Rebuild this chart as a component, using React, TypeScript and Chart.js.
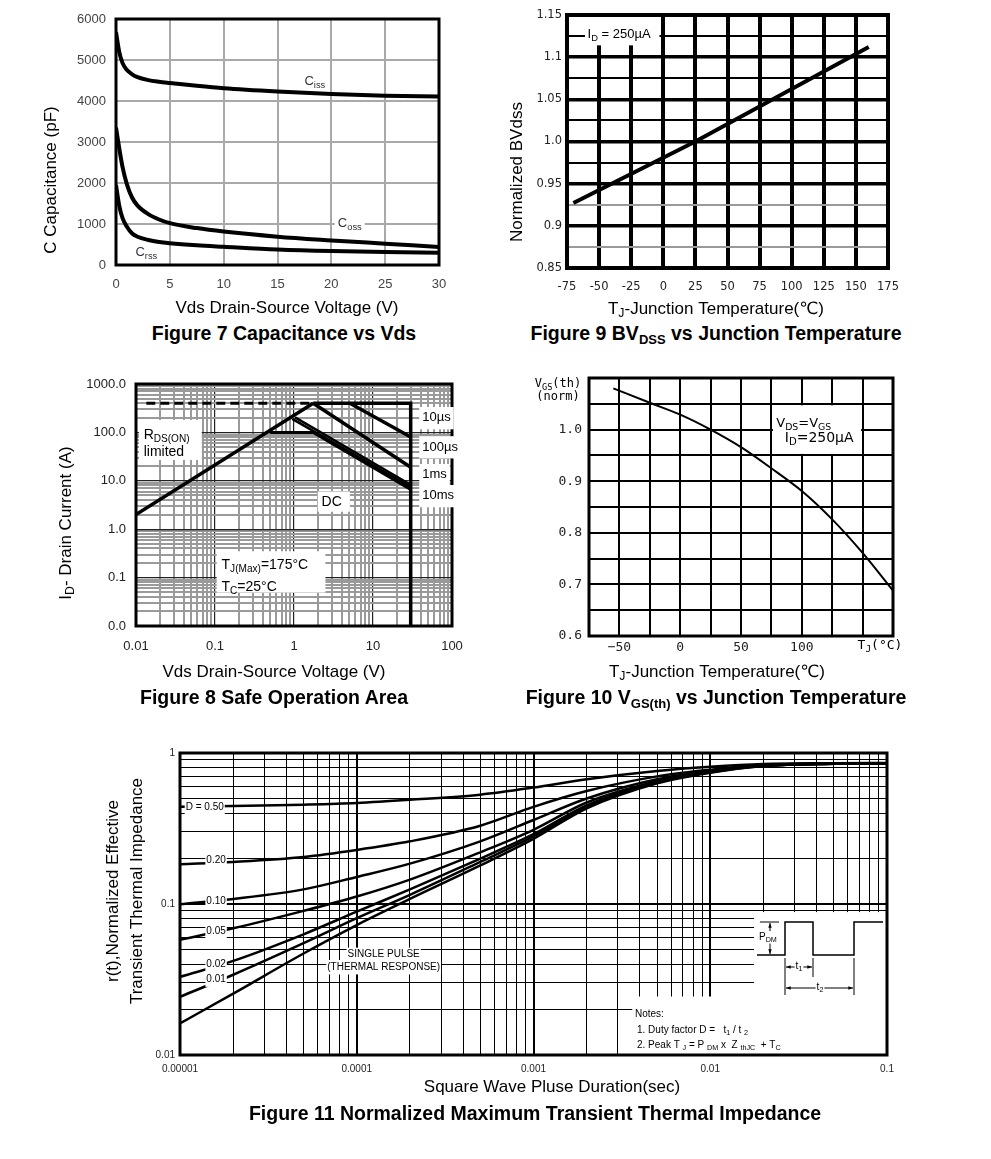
import React, { useEffect, useRef } from "react";
import { Chart, registerables } from "chart.js";

Chart.register(...registerables);

const SANS = '"Liberation Sans", Arial, Helvetica, "DejaVu Sans", "Noto Sans CJK SC", sans-serif';
const DEJ = '"DejaVu Sans", "Liberation Sans", sans-serif';
const MONO = '"DejaVu Sans Mono", "DejaVu Sans", monospace';

// ---------- Figure 7: Capacitance vs Vds ----------
const capVds = [0, 0.3, 0.6, 1, 1.5, 2, 3, 4, 5, 7.5, 10, 15, 20, 25, 30];
const capCiss = [5680, 5200, 4930, 4760, 4650, 4580, 4510, 4470, 4440, 4370, 4310, 4230, 4170, 4130, 4110];
const capCoss = [3350, 2850, 2400, 1980, 1640, 1450, 1240, 1110, 1020, 900, 815, 690, 600, 520, 440];
const capCrss = [1950, 1450, 1150, 940, 770, 690, 610, 560, 530, 480, 445, 380, 340, 315, 300];
const capXTicks = [0, 5, 10, 15, 20, 25, 30];
const capYTicks = [0, 1000, 2000, 3000, 4000, 5000, 6000];

// ---------- Figure 9: BVdss vs Junction Temperature ----------
const bvTemp = [-70, 25, 160];
const bvNorm = [0.927, 1.0, 1.112];
const bvXTicks = [-75, -50, -25, 0, 25, 50, 75, 100, 125, 150, 175];
const bvYTicks = [0.85, 0.875, 0.9, 0.925, 0.95, 0.975, 1.0, 1.025, 1.05, 1.075, 1.1, 1.125, 1.15];
const bvYLabels = ["0.85", "", "0.9", "", "0.95", "", "1.0", "", "1.05", "", "1.1", "", "1.15"];

// ---------- Figure 8: Safe Operation Area ----------
const soaRdsV = [0.01, 1.75];
const soaRdsI = [2, 400];
const soaLimV = [0.0135, 1.75];
const soaLimI = [400, 400];
const soaMaxV = [1.75, 30, 30];
const soaMaxI = [400, 400, 0.01];
const soa10usV = [5.1, 30];
const soa10usI = [400, 80];
const soa100usV = [1.75, 30];
const soa100usI = [400, 19];
const soa1msV = [1.03, 30];
const soa1msI = [205, 8.3];
const soa10msV = [0.95, 30];
const soa10msI = [190, 7.4];
const soaDcV = [0.5, 1.75, 30];
const soaDcI = [100, 100, 6.6];
const soaXDecades = [0.01, 0.1, 1, 10, 100];
const soaXLabels = ["0.01", "0.1", "1", "10", "100"];
const soaYDecades = [0.01, 0.1, 1, 10, 100, 1000];
const soaYLabels = ["0.0", "0.1", "1.0", "10.0", "100.0", "1000.0"];

// ---------- Figure 10: Vgs(th) vs Junction Temperature ----------
const vthTemp = [-55, -25, 0, 25, 50, 75, 100, 125, 150, 175];
const vthNorm = [1.08, 1.052, 1.029, 1.0, 0.966, 0.925, 0.881, 0.826, 0.761, 0.688];
const vthXTicks = [-75, -50, -25, 0, 25, 50, 75, 100, 125, 150, 175];
const vthXLabels = ["", "\u221250", "", "0", "", "50", "", "100", "", "", ""];
const vthYTicks = [0.6, 0.65, 0.7, 0.75, 0.8, 0.85, 0.9, 0.95, 1.0, 1.05, 1.1];
const vthYLabels = ["0.6", "", "0.7", "", "0.8", "", "0.9", "", "1.0", "", ""];

// ---------- Figure 11: Transient Thermal Impedance ----------
const zthT = [1e-5, 2e-5, 5e-5, 1e-4, 2e-4, 5e-4, 1e-3, 2e-3, 5e-3, 1e-2, 2e-2, 5e-2, 1e-1];
const zthD050 = [0.44, 0.445, 0.455, 0.467, 0.49, 0.53, 0.59, 0.67, 0.76, 0.81, 0.845, 0.855, 0.858];
const zthD020 = [0.183, 0.19, 0.205, 0.228, 0.26, 0.33, 0.44, 0.56, 0.7, 0.775, 0.835, 0.852, 0.855];
const zthD010 = [0.0995, 0.108, 0.125, 0.151, 0.185, 0.26, 0.36, 0.5, 0.67, 0.76, 0.83, 0.85, 0.855];
const zthD005 = [0.058, 0.069, 0.09, 0.112, 0.145, 0.22, 0.31, 0.47, 0.65, 0.755, 0.825, 0.85, 0.855];
const zthD002 = [0.0329, 0.042, 0.063, 0.089, 0.125, 0.2, 0.29, 0.45, 0.64, 0.75, 0.825, 0.85, 0.855];
const zthD001 = [0.0243, 0.034, 0.055, 0.0805, 0.115, 0.19, 0.28, 0.44, 0.635, 0.745, 0.82, 0.85, 0.855];
const zthSingle = [0.0162, 0.0255, 0.047, 0.0725, 0.108, 0.18, 0.27, 0.43, 0.63, 0.74, 0.82, 0.85, 0.855];
const zthXDecades = [1e-5, 1e-4, 1e-3, 1e-2, 1e-1];
const zthXLabels = ["0.00001", "0.0001", "0.001", "0.01", "0.1"];
const zthYDecades = [0.01, 0.1, 1];
const zthYLabels = ["0.01", "0.1", "1"];

// ---------- helpers ----------
type Align = "left" | "center" | "right";
type Seg = { t: string; sub: boolean };

function parseRich(s: string): Seg[] {
  const out: Seg[] = [];
  const re = /_\{([^}]*)\}/g;
  let last = 0;
  let m: RegExpExecArray | null;
  while ((m = re.exec(s))) {
    if (m.index > last) out.push({ t: s.slice(last, m.index), sub: false });
    out.push({ t: m[1], sub: true });
    last = re.lastIndex;
  }
  if (last < s.length) out.push({ t: s.slice(last), sub: false });
  return out;
}

type RichOpts = { size: number; align?: Align; rotate?: boolean; family?: string; color?: string; bg?: boolean; pad?: number; weight?: string };

function drawRich(ctx: CanvasRenderingContext2D, text: string, x: number, y: number, o: RichOpts) {
  const size = o.size;
  const subSize = size * 0.72;
  const fam = o.family || SANS;
  const wt = o.weight || "normal";
  const segs = parseRich(text);
  const fontFor = (sub: boolean) => `${wt} ${sub ? subSize : size}px ${fam}`;
  const widths: number[] = [];
  let w = 0;
  for (const s of segs) {
    ctx.font = fontFor(s.sub);
    const ww = ctx.measureText(s.t).width;
    widths.push(ww);
    w += ww;
  }
  ctx.save();
  ctx.translate(x, y);
  if (o.rotate) ctx.rotate(-Math.PI / 2);
  let sx = o.align === "center" ? -w / 2 : o.align === "right" ? -w : 0;
  if (o.bg) {
    const p = o.pad ?? 2;
    ctx.fillStyle = "#fff";
    ctx.fillRect(sx - p, -size * 0.6 - p, w + 2 * p, size * 1.25 + 2 * p);
  }
  ctx.fillStyle = o.color || "#000";
  ctx.textBaseline = "middle";
  ctx.textAlign = "left";
  segs.forEach((s, i) => {
    ctx.font = fontFor(s.sub);
    ctx.fillText(s.t, sx, s.sub ? size * 0.3 : 0);
    sx += widths[i];
  });
  ctx.restore();
}

type DataBox = { x0: number; x1: number; y0: number; y1: number; inset?: number };
type DataText = { x: number; y: number; text: string; size: number; align?: Align; bg?: boolean; family?: string; color?: string; pad?: number };
type PixText = { x: number; y: number; text: string; size: number; align?: Align; rotate?: boolean; family?: string; color?: string };
type Deco = { boxes?: DataBox[]; labels?: DataText[]; texts?: PixText[]; frame: number; draw?: (ctx: CanvasRenderingContext2D, a: any) => void };

function decoPlugin(d: Deco) {
  return {
    id: "deco",
    beforeDatasetsDraw(chart: any) {
      const ctx = chart.ctx;
      const xs = chart.scales.x;
      const ys = chart.scales.y;
      ctx.save();
      ctx.fillStyle = "#fff";
      for (const b of d.boxes || []) {
        const a = xs.getPixelForValue(b.x0);
        const c = xs.getPixelForValue(b.x1);
        const e = ys.getPixelForValue(b.y0);
        const f = ys.getPixelForValue(b.y1);
        const ins = b.inset || 0;
        ctx.fillRect(Math.min(a, c) + ins, Math.min(e, f) + ins, Math.abs(c - a) - 2 * ins, Math.abs(f - e) - 2 * ins);
      }
      ctx.restore();
    },
    afterDatasetsDraw(chart: any) {
      const ctx = chart.ctx;
      const area = chart.chartArea;
      const xs = chart.scales.x;
      const ys = chart.scales.y;
      ctx.save();
      ctx.strokeStyle = "#000";
      ctx.lineWidth = d.frame;
      ctx.strokeRect(area.left, area.top, area.right - area.left, area.bottom - area.top);
      ctx.restore();
      if (d.draw) {
        ctx.save();
        d.draw(ctx, area);
        ctx.restore();
      }
      for (const l of d.labels || []) {
        drawRich(ctx, l.text, xs.getPixelForValue(l.x), ys.getPixelForValue(l.y), {
          size: l.size, align: l.align || "left", bg: l.bg, family: l.family, color: l.color, pad: l.pad,
        });
      }
      for (const t of d.texts || []) {
        drawRich(ctx, t.text, t.x, t.y, { size: t.size, align: t.align || "center", rotate: t.rotate, family: t.family, color: t.color });
      }
    },
  };
}

function logGrid(decades: number[]): number[] {
  const out: number[] = [];
  for (let i = 0; i < decades.length - 1; i++) {
    for (let k = 1; k < 10; k++) out.push(Number((decades[i] * k).toPrecision(6)));
  }
  out.push(decades[decades.length - 1]);
  return out;
}
const near = (a: number, b: number) => Math.abs(a - b) <= Math.abs(b) * 1e-6;
const isIn = (v: number, list: number[]) => list.some((d) => near(v, d));
function decadeLabel(v: number, decs: number[], labels: string[]) {
  const i = decs.findIndex((d) => near(v, d));
  return i >= 0 ? labels[i] : "";
}

type AxisOpts = {
  type: string; min: number; max: number; ticks: number[]; label: (v: number, i: number) => string;
  fit: number; isX: boolean; padding: number; family: string; size: number; color: string;
  gridColor: any; gridWidth: any;
};
function axis(o: AxisOpts): any {
  return {
    type: o.type,
    min: o.min,
    max: o.max,
    afterBuildTicks: (s: any) => {
      s.ticks = o.ticks.map((v) => ({ value: v }));
    },
    afterFit: (s: any) => {
      if (o.isX) s.height = o.fit;
      else s.width = o.fit;
    },
    ticks: {
      autoSkip: false, maxRotation: 0, minRotation: 0, padding: o.padding, color: o.color,
      font: { family: o.family, size: o.size },
      callback: (v: any, i: number) => o.label(Number(v), i),
    },
    grid: { drawTicks: false, color: o.gridColor, lineWidth: o.gridWidth },
    border: { display: false },
  };
}

const pts = (xs: number[], ys: number[]) => xs.map((x, i) => ({ x, y: ys[i] }));
const line = (data: any[], width: number, extra: any = {}) => ({
  data, borderColor: "#000", borderWidth: width, pointRadius: 0, fill: false, tension: 0, ...extra,
});
const baseOptions = (T: number, R: number) => ({
  animation: false as const,
  responsive: false,
  events: [] as any[],
  layout: { padding: { left: 0, top: T, right: R, bottom: 0 } },
  plugins: { legend: { display: false }, tooltip: { enabled: false } },
});

// ---------- chart factories ----------
function makeFig7(c: HTMLCanvasElement) {
  const L = 116, T = 19, R = 41, B = 55;
  const smooth = { cubicInterpolationMode: "monotone" };
  return new Chart(c, {
    type: "line",
    data: {
      datasets: [
        line(pts(capVds, capCiss), 4, smooth),
        line(pts(capVds, capCoss), 4, smooth),
        line(pts(capVds, capCrss), 4, smooth),
      ] as any,
    },
    options: {
      ...baseOptions(T, R),
      scales: {
        x: axis({ type: "linear", min: 0, max: 30, ticks: capXTicks, label: (v) => String(v), fit: B, isX: true, padding: 12, family: SANS, size: 13, color: "#444", gridColor: "#a9a9a9", gridWidth: 2 }),
        y: axis({ type: "linear", min: 0, max: 6000, ticks: capYTicks, label: (v) => String(v), fit: L, isX: false, padding: 10, family: SANS, size: 13, color: "#444", gridColor: "#a9a9a9", gridWidth: 2 }),
      },
    } as any,
    plugins: [
      decoPlugin({
        frame: 3,
        labels: [
          { x: 17.5, y: 4480, text: "C_{iss}", size: 13, color: "#333" },
          { x: 20.6, y: 1020, text: "C_{oss}", size: 13, color: "#333", bg: true, pad: 3 },
          { x: 1.8, y: 300, text: "C_{rss}", size: 13, color: "#334" },
        ],
        texts: [
          { x: 287, y: 308, text: "Vds Drain-Source Voltage (V)", size: 17 },
          { x: 51, y: 180, text: "C Capacitance (pF)", size: 17, rotate: true },
        ],
      }),
    ],
  });
}

function makeFig9(c: HTMLCanvasElement) {
  const L = 77, T = 15, R = 102, B = 52;
  const minorGrey = [0.925, 0.875];
  return new Chart(c, {
    type: "line",
    data: { datasets: [line(pts(bvTemp, bvNorm), 4)] as any },
    options: {
      ...baseOptions(T, R),
      scales: {
        x: axis({ type: "linear", min: -75, max: 175, ticks: bvXTicks, label: (v) => String(v), fit: B, isX: true, padding: 12, family: DEJ, size: 11.5, color: "#222", gridColor: "#000", gridWidth: 4 }),
        y: axis({
          type: "linear", min: 0.85, max: 1.15, ticks: bvYTicks, label: (_v, i) => bvYLabels[i] ?? "",
          fit: L, isX: false, padding: 5, family: DEJ, size: 11.5, color: "#222",
          gridColor: (ctx: any) => (isIn(ctx.tick?.value, minorGrey) ? "#9a9a9a" : "#000"),
          gridWidth: (ctx: any) => (ctx.index % 2 === 0 ? 3.5 : 2),
        }),
      },
    } as any,
    plugins: [
      decoPlugin({
        frame: 4,
        boxes: [{ x0: -61, x1: -3, y0: 1.114, y1: 1.15 }],
        labels: [{ x: -59, y: 1.127, text: "I_{D} = 250\u00b5A", size: 13 }],
        texts: [
          { x: 226, y: 309, text: "T_{J}-Junction Temperature(\u2103)", size: 17 },
          { x: 27, y: 172, text: "Normalized BVdss", size: 17, rotate: true },
        ],
      }),
    ],
  });
}

function makeFig8(c: HTMLCanvasElement) {
  const L = 136, T = 24, R = 28, B = 64;
  const xGrid = logGrid(soaXDecades);
  const yGrid = logGrid(soaYDecades);
  return new Chart(c, {
    type: "line",
    data: {
      datasets: [
        line(pts(soaLimV, soaLimI), 3, { borderDash: [9, 5] }),
        line(pts(soaRdsV, soaRdsI), 3.5),
        line(pts(soaMaxV, soaMaxI), 3.5),
        line(pts(soa10usV, soa10usI), 3.5),
        line(pts(soa100usV, soa100usI), 3.5),
        line(pts(soa1msV, soa1msI), 2.5),
        line(pts(soa10msV, soa10msI), 2.5),
        line(pts(soaDcV, soaDcI), 3),
      ] as any,
    },
    options: {
      ...baseOptions(T, R),
      scales: {
        x: axis({
          type: "logarithmic", min: 0.01, max: 100, ticks: xGrid, label: (v) => decadeLabel(v, soaXDecades, soaXLabels),
          fit: B, isX: true, padding: 13, family: SANS, size: 13, color: "#222",
          gridColor: (ctx: any) => (isIn(ctx.tick?.value, soaXDecades) ? "#222" : "#9a9a9a"),
          gridWidth: (ctx: any) => (isIn(ctx.tick?.value, soaXDecades) ? 1.2 : 2),
        }),
        y: axis({
          type: "logarithmic", min: 0.01, max: 1000, ticks: yGrid, label: (v) => decadeLabel(v, soaYDecades, soaYLabels),
          fit: L, isX: false, padding: 10, family: SANS, size: 13, color: "#222",
          gridColor: (ctx: any) => (isIn(ctx.tick?.value, soaYDecades) ? "#222" : "#9a9a9a"),
          gridWidth: (ctx: any) => (isIn(ctx.tick?.value, soaYDecades) ? 1.2 : 2),
        }),
      },
    } as any,
    plugins: [
      decoPlugin({
        frame: 3,
        boxes: [
          { x0: 0.0109, x1: 0.068, y0: 27, y1: 181 },
          { x0: 2.0, x1: 5.1, y0: 2.3, y1: 6.0 },
          { x0: 0.105, x1: 2.5, y0: 0.049, y1: 0.35 },
        ],
        labels: [
          { x: 0.0125, y: 89, text: "R_{DS(ON)}", size: 14 },
          { x: 0.0125, y: 38.6, text: "limited", size: 14 },
          { x: 3.0, y: 3.7, text: "DC", size: 14, align: "center" },
          { x: 0.121, y: 0.183, text: "T_{J(Max)}=175\u00b0C", size: 14 },
          { x: 0.121, y: 0.065, text: "T_{C}=25\u00b0C", size: 14 },
          { x: 42, y: 200, text: "10\u00b5s", size: 13, bg: true, pad: 3 },
          { x: 42, y: 50, text: "100\u00b5s", size: 13, bg: true, pad: 3 },
          { x: 42, y: 13.3, text: "1ms", size: 13, bg: true, pad: 3 },
          { x: 42, y: 4.9, text: "10ms", size: 13, bg: true, pad: 3 },
        ],
        texts: [
          { x: 274, y: 312, text: "Vds Drain-Source Voltage (V)", size: 17 },
          { x: 66, y: 163, text: "I_{D}- Drain Current (A)", size: 17, rotate: true },
        ],
      }),
    ],
  });
}

function makeFig10(c: HTMLCanvasElement) {
  const L = 99, T = 18, R = 97, B = 54;
  return new Chart(c, {
    type: "line",
    data: { datasets: [line(pts(vthTemp, vthNorm), 2, { cubicInterpolationMode: "monotone" })] as any },
    options: {
      ...baseOptions(T, R),
      scales: {
        x: axis({ type: "linear", min: -75, max: 175, ticks: vthXTicks, label: (_v, i) => vthXLabels[i] ?? "", fit: B, isX: true, padding: 4, family: MONO, size: 13, color: "#222", gridColor: "#000", gridWidth: 2 }),
        y: axis({ type: "linear", min: 0.6, max: 1.1, ticks: vthYTicks, label: (_v, i) => vthYLabels[i] ?? "", fit: L, isX: false, padding: 7, family: MONO, size: 13, color: "#222", gridColor: "#000", gridWidth: 2 }),
      },
    } as any,
    plugins: [
      decoPlugin({
        frame: 3,
        boxes: [{ x0: 75, x1: 150, y0: 0.95, y1: 1.05, inset: 1.5 }],
        labels: [
          { x: 79, y: 1.012, text: "V_{DS}=V_{GS}", size: 13, family: DEJ },
          { x: 86, y: 0.983, text: "I_{D}=250\u00b5A", size: 14, family: DEJ },
        ],
        texts: [
          { x: 227, y: 312, text: "T_{J}-Junction Temperature(\u2103)", size: 17 },
          { x: 68, y: 24, text: "V_{GS}(th)", size: 12, family: MONO },
          { x: 68, y: 37, text: "(norm)", size: 12, family: MONO },
          { x: 390, y: 286, text: "T_{J}(\u00b0C)", size: 13, family: MONO },
        ],
      }),
    ],
  });
}

function arrow(ctx: CanvasRenderingContext2D, x1: number, y1: number, x2: number, y2: number) {
  ctx.beginPath();
  ctx.moveTo(x1, y1);
  ctx.lineTo(x2, y2);
  ctx.stroke();
  const head = (x: number, y: number, ang: number) => {
    ctx.beginPath();
    ctx.moveTo(x, y);
    ctx.lineTo(x - 5 * Math.cos(ang - 0.35), y - 5 * Math.sin(ang - 0.35));
    ctx.lineTo(x - 5 * Math.cos(ang + 0.35), y - 5 * Math.sin(ang + 0.35));
    ctx.closePath();
    ctx.fill();
  };
  const a = Math.atan2(y2 - y1, x2 - x1);
  head(x2, y2, a);
  head(x1, y1, a + Math.PI);
}

function makeFig11(c: HTMLCanvasElement) {
  const L = 180, T = 18, R = 104, B = 50;
  const xGrid = logGrid(zthXDecades);
  const yGrid = logGrid(zthYDecades);
  const smooth = { cubicInterpolationMode: "monotone" };
  const series = [zthD050, zthD020, zthD010, zthD005, zthD002, zthD001, zthSingle];
  return new Chart(c, {
    type: "line",
    data: { datasets: series.map((s) => line(pts(zthT, s), 2.5, smooth)) as any },
    options: {
      ...baseOptions(T, R),
      scales: {
        x: axis({
          type: "logarithmic", min: 1e-5, max: 0.1, ticks: xGrid, label: (v) => decadeLabel(v, zthXDecades, zthXLabels),
          fit: B, isX: true, padding: 8, family: SANS, size: 10, color: "#222", gridColor: "#000",
          gridWidth: (ctx: any) => (isIn(ctx.tick?.value, zthXDecades) ? 2 : 1),
        }),
        y: axis({
          type: "logarithmic", min: 0.01, max: 1, ticks: yGrid, label: (v) => decadeLabel(v, zthYDecades, zthYLabels),
          fit: L, isX: false, padding: 5, family: SANS, size: 10, color: "#222", gridColor: "#000",
          gridWidth: (ctx: any) => (isIn(ctx.tick?.value, zthYDecades) ? 2 : 1),
        }),
      },
    } as any,
    plugins: [
      decoPlugin({
        frame: 3,
        boxes: [
          { x0: 0.0177, x1: 0.1, y0: 0.01, y1: 0.0884 },
          { x0: 0.00362, x1: 0.1, y0: 0.01, y1: 0.0244 },
        ],
        labels: [
          { x: 1.38e-5, y: 0.437, text: "D = 0.50", size: 10, align: "center", bg: true, pad: 1 },
          { x: 1.6e-5, y: 0.194, text: "0.20", size: 10, align: "center", bg: true, pad: 1 },
          { x: 1.6e-5, y: 0.105, text: "0.10", size: 10, align: "center", bg: true, pad: 1 },
          { x: 1.6e-5, y: 0.0656, text: "0.05", size: 10, align: "center", bg: true, pad: 1 },
          { x: 1.6e-5, y: 0.0401, text: "0.02", size: 10, align: "center", bg: true, pad: 1 },
          { x: 1.6e-5, y: 0.0317, text: "0.01", size: 10, align: "center", bg: true, pad: 1 },
          { x: 1.42e-4, y: 0.0462, text: "SINGLE PULSE", size: 10, align: "center", bg: true, pad: 1 },
          { x: 1.42e-4, y: 0.0383, text: "(THERMAL RESPONSE)", size: 10, align: "center", bg: true, pad: 1 },
        ],
        draw: (ctx, a) => {
          const X = (dx: number) => a.right + dx;
          const Y = (dy: number) => a.bottom + dy;
          ctx.strokeStyle = "#000";
          ctx.fillStyle = "#000";
          ctx.lineWidth = 1.5;
          const wave = [[-130, -100], [-102, -100], [-102, -133], [-74, -133], [-74, -100], [-33, -100], [-33, -133], [-4, -133]];
          ctx.beginPath();
          wave.forEach(([dx, dy], i) => (i === 0 ? ctx.moveTo(X(dx), Y(dy)) : ctx.lineTo(X(dx), Y(dy))));
          ctx.stroke();
          ctx.lineWidth = 1;
          ctx.beginPath();
          ctx.moveTo(X(-127), Y(-133));
          ctx.lineTo(X(-108), Y(-133));
          ctx.moveTo(X(-102), Y(-97));
          ctx.lineTo(X(-102), Y(-60));
          ctx.moveTo(X(-74), Y(-97));
          ctx.lineTo(X(-74), Y(-78));
          ctx.moveTo(X(-33), Y(-97));
          ctx.lineTo(X(-33), Y(-60));
          ctx.stroke();
          arrow(ctx, X(-117), Y(-132), X(-117), Y(-101));
          arrow(ctx, X(-101), Y(-88), X(-75), Y(-88));
          arrow(ctx, X(-101), Y(-67), X(-34), Y(-67));
          drawRich(ctx, "P_{DM}", X(-128), Y(-118), { size: 10, bg: true, pad: 0 });
          drawRich(ctx, "t_{1}", X(-88), Y(-89), { size: 10, align: "center", bg: true, pad: 1 });
          drawRich(ctx, "t_{2}", X(-67), Y(-68), { size: 10, align: "center", bg: true, pad: 1 });
          drawRich(ctx, "Notes:", X(-252), Y(-41), { size: 10 });
          drawRich(ctx, "1. Duty factor D =   t_{1} / t _{2}", X(-250), Y(-25), { size: 10 });
          drawRich(ctx, "2. Peak T _{J} = P _{DM} x  Z _{thJC}  + T_{C}", X(-250), Y(-10), { size: 10 });
        },
        texts: [
          { x: 552, y: 352, text: "Square Wave Pluse Duration(sec)", size: 17 },
          { x: 113, y: 156, text: "r(t),Normalized Effective", size: 17, rotate: true },
          { x: 137, y: 156, text: "Transient Thermal Impedance", size: 17, rotate: true },
        ],
      }),
    ],
  });
}

// ---------- components ----------
function Fig({ left, top, width, height, make }: { left: number; top: number; width: number; height: number; make: (c: HTMLCanvasElement) => Chart }) {
  const ref = useRef<HTMLCanvasElement>(null);
  useEffect(() => {
    const ch = make(ref.current as HTMLCanvasElement);
    return () => ch.destroy();
  }, []);
  return (
    <canvas
      ref={ref}
      width={width}
      height={height}
      style={{ position: "absolute", left, top, width, height, display: "block" }}
    />
  );
}

const subStyle: React.CSSProperties = { fontSize: 13, verticalAlign: "baseline", position: "relative", top: 4 };

function Caption({ cx, cy, children }: { cx: number; cy: number; children: React.ReactNode }) {
  return (
    <div
      style={{
        position: "absolute", left: cx - 300, width: 600, top: cy - 12, height: 24, lineHeight: "24px",
        textAlign: "center", fontWeight: "bold", fontSize: 19.5, fontFamily: SANS, color: "#000", whiteSpace: "nowrap",
      }}
    >
      {children}
    </div>
  );
}

export default function App() {
  return (
    <div style={{ position: "absolute", left: 0, top: 0, width: 991, height: 1159, background: "#fff", overflow: "hidden" }}>
      <Fig left={0} top={0} width={480} height={320} make={makeFig7} />
      <Fig left={490} top={0} width={500} height={320} make={makeFig9} />
      <Fig left={0} top={360} width={480} height={330} make={makeFig8} />
      <Fig left={490} top={360} width={500} height={330} make={makeFig10} />
      <Fig left={0} top={735} width={991} height={370} make={makeFig11} />
      <Caption cx={284} cy={333}>Figure 7 Capacitance vs Vds</Caption>
      <Caption cx={716} cy={333}>
        Figure 9 BV<span style={subStyle}>DSS</span> vs Junction Temperature
      </Caption>
      <Caption cx={274} cy={697}>Figure 8 Safe Operation Area</Caption>
      <Caption cx={716} cy={697}>
        Figure 10 V<span style={subStyle}>GS(th)</span> vs Junction Temperature
      </Caption>
      <Caption cx={535} cy={1113}>Figure 11 Normalized Maximum Transient Thermal Impedance</Caption>
    </div>
  );
}
